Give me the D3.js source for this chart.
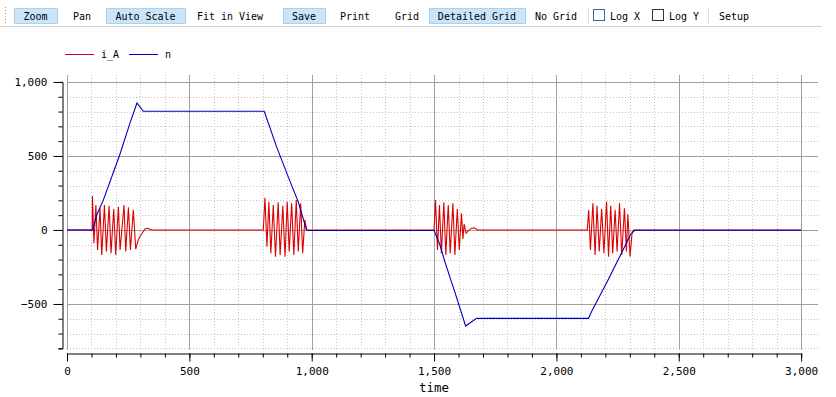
<!DOCTYPE html>
<meta charset="utf-8">
<script src="https://d3js.org/d3.v7.min.js"></script>
<style>
  body { margin: 0; background: #fff; }
  text { font-family: "DejaVu Sans Mono", "Liberation Mono", monospace; }
</style>
<div id="chart"></div>
<script>

// toolbar buttons: label, x start, width, highlighted
var toolLabels = ["Zoom", "Pan", "Auto Scale", "Fit in View", "Save", "Print", "Grid", "Detailed Grid", "No Grid"];
var toolX      = [14, 66, 106, 192, 283, 334, 388, 429, 531];
var toolW      = [43, 32, 79, 76, 42, 42, 38, 96, 50];
var toolOn     = [true, false, true, false, true, false, false, true, false];

// series n (speed)
var nTime  = [0, 106, 121, 148, 216, 257, 286, 312, 806, 857, 911, 945, 979, 990, 1500, 1524, 1544, 1585, 1629, 1674, 2131, 2147, 2211, 2259, 2304, 2320, 3000];
var nValue = [0, 0, 100, 200, 510, 720, 858, 802, 802, 560, 330, 190, 0, -4, -4, -100, -214, -420, -649, -597, -597, -540, -338, -180, -27, -2, -2];

// series i_A (current)
var iTime  = [0, 103, 104, 110, 118, 125, 135, 142, 153, 161, 172, 180, 191, 199, 210, 217, 233, 240, 251, 259, 271, 281, 291, 302, 319, 330, 346,
              802, 809, 817, 825, 833, 843, 852, 863, 871, 882, 891, 900, 908, 918, 927, 937, 945, 955, 963, 972, 979,
              1500, 1506, 1514, 1522, 1530, 1540, 1548, 1558, 1566, 1577, 1585, 1595, 1603, 1612, 1618, 1623, 1631, 1641, 1653, 1664, 1678,
              2126, 2132, 2139, 2149, 2158, 2166, 2175, 2185, 2194, 2205, 2213, 2222, 2230, 2240, 2248, 2258, 2267, 2278, 2286, 2292, 2301, 2309, 2316, 3000];
var iValue = [0, 0, 230, -90, 169, -135, 146, -169, 169, -146, 164, -157, 142, -169, 157, -135, 169, -146, 153, -135, 135, -130, -68, -34, 7, 11, 0,
              0, 218, -113, 191, -158, 169, -180, 187, -169, 164, -180, 191, -146, 180, -169, 203, -146, 180, -157, 68, 0,
              0, 203, -135, 169, -158, 187, -169, 169, -158, 180, -169, 142, -135, 112, -60, 40, -22, -5, 12, 14, 0,
              0, 135, -135, 180, -169, 164, -146, 142, -157, 191, -180, 164, -157, 135, -146, 180, -169, 146, -146, 106, -180, -22, 0, 0];

var xMajor = [0, 500, 1000, 1500, 2000, 2500, 3000];
var yMajor = [-500, 0, 500, 1000];

var W = 836, H = 397;
var svg = d3.select("#chart").append("svg")
    .attr("width", W)
    .attr("height", H);

// ---- toolbar ----
var tb = svg.append("g");
tb.append("line")
  .attr("x1", 0).attr("x2", 822).attr("y1", 26.5).attr("y2", 26.5)
  .attr("stroke", "#d4d4d4");
tb.append("line")
  .attr("x1", 5.5).attr("x2", 5.5).attr("y1", 7).attr("y2", 25)
  .attr("stroke", "#9a9a9a").attr("stroke-dasharray", "1,2");

toolLabels.forEach(function(lbl, i) {
  if (toolOn[i]) {
    tb.append("rect")
      .attr("x", toolX[i] + 0.5).attr("y", 8.5)
      .attr("width", toolW[i]).attr("height", 15)
      .attr("fill", "#cce4f7").attr("stroke", "#a8d2f2");
  }
  tb.append("text")
    .attr("x", toolX[i] + toolW[i] / 2).attr("y", 20)
    .attr("text-anchor", "middle")
    .attr("font-size", "10px")
    .attr("fill", "#000")
    .text(lbl);
});
// separators
[588, 708].forEach(function(sx) {
  tb.append("line").attr("x1", sx + 0.5).attr("x2", sx + 0.5).attr("y1", 8).attr("y2", 24)
    .attr("stroke", "#dcdcdc");
});
// checkboxes
tb.append("rect").attr("x", 593.5).attr("y", 9.5).attr("width", 11).attr("height", 11)
  .attr("fill", "#fff").attr("stroke", "#2d6fa8");
tb.append("text").attr("x", 610).attr("y", 20).attr("font-size", "10px").text("Log X");
tb.append("rect").attr("x", 652.5).attr("y", 9.5).attr("width", 11).attr("height", 11)
  .attr("fill", "#fff").attr("stroke", "#333");
tb.append("text").attr("x", 669).attr("y", 20).attr("font-size", "10px").text("Log Y");
tb.append("text").attr("x", 719).attr("y", 20).attr("font-size", "10px").text("Setup");

// ---- legend ----
var leg = svg.append("g");
leg.append("line").attr("x1", 65).attr("x2", 94).attr("y1", 54.5).attr("y2", 54.5)
  .attr("stroke", "#d0001c").attr("stroke-width", 1);
leg.append("text").attr("x", 101).attr("y", 58).attr("font-size", "10px").text("i_A");
leg.append("line").attr("x1", 129).attr("x2", 158).attr("y1", 54.5).attr("y2", 54.5)
  .attr("stroke", "#0000b4").attr("stroke-width", 1);
leg.append("text").attr("x", 165).attr("y", 58).attr("font-size", "10px").text("n");

// ---- scales ----
var x = d3.scaleLinear().domain([0, 3069]).range([67, 818]);
var y = d3.scaleLinear().domain([-811, 1047]).range([350, 75]);

// grid
var grid = svg.append("g");
grid.selectAll(".vmin").data(d3.range(0, 3100, 100).filter(function(d) { return d % 500; }))
  .enter().append("line")
    .attr("x1", function(d) { return Math.round(x(d)) + 0.5; })
    .attr("x2", function(d) { return Math.round(x(d)) + 0.5; })
    .attr("y1", 75).attr("y2", 350)
    .attr("stroke", "#c4c4c4").attr("stroke-dasharray", "1,2");
grid.selectAll(".hmin").data(d3.range(-800, 1100, 100).filter(function(d) { return d % 500; }))
  .enter().append("line")
    .attr("x1", 67).attr("x2", 818)
    .attr("y1", function(d) { return Math.round(y(d)) + 0.5; })
    .attr("y2", function(d) { return Math.round(y(d)) + 0.5; })
    .attr("stroke", "#c4c4c4").attr("stroke-dasharray", "1,2");
grid.selectAll(".vmaj").data(xMajor)
  .enter().append("line")
    .attr("x1", function(d) { return Math.round(x(d)) + 0.5; })
    .attr("x2", function(d) { return Math.round(x(d)) + 0.5; })
    .attr("y1", 75).attr("y2", 350)
    .attr("stroke", "#a0a0a0");
grid.selectAll(".hmaj").data(yMajor)
  .enter().append("line")
    .attr("x1", 67).attr("x2", 818)
    .attr("y1", function(d) { return Math.round(y(d)) + 0.5; })
    .attr("y2", function(d) { return Math.round(y(d)) + 0.5; })
    .attr("stroke", "#a0a0a0");

// ---- axes ----
var fmt = d3.format(",");
var yAx = y.copy().domain([-800, 1000]).range([y(-800), y(1000)]);
var xAx = x.copy().domain([0, 3000]).range([x(0), x(3000)]);

svg.append("g").attr("transform", "translate(62.5,0)")
  .call(d3.axisLeft(yAx).tickValues(d3.range(-800, 1100, 100)).tickSizeOuter(0)
        .tickSize(4).tickFormat(""));
svg.append("g").attr("transform", "translate(62.5,0)")
  .call(d3.axisLeft(yAx).tickValues(yMajor).tickSizeOuter(0).tickSize(9).tickPadding(6)
        .tickFormat(fmt))
  .call(function(g) { g.select(".domain").remove(); });

svg.append("g").attr("transform", "translate(0,353.5)")
  .call(d3.axisBottom(xAx).tickValues(d3.range(0, 3100, 100)).tickSizeOuter(0)
        .tickSize(4).tickFormat(""));
svg.append("g").attr("transform", "translate(0,353.5)")
  .call(d3.axisBottom(xAx).tickValues(xMajor).tickSizeOuter(0).tickSize(8).tickPadding(6)
        .tickFormat(fmt))
  .call(function(g) { g.select(".domain").remove(); });

svg.selectAll(".tick text")
  .attr("font-family", "'DejaVu Sans Mono', monospace")
  .attr("font-size", "11px")
  .attr("fill", "#000");

svg.append("text")
  .attr("x", 434).attr("y", 392)
  .attr("text-anchor", "middle")
  .attr("font-size", "12.5px")
  .text("time");

// ---- lines ----
svg.append("clipPath").attr("id", "clip")
  .append("rect").attr("x", 67).attr("y", 75).attr("width", 751).attr("height", 275);

var iData = iTime.map(function(t, k) { return [t, iValue[k]]; });
var nData = nTime.map(function(t, k) { return [t, nValue[k]]; });
var line = d3.line()
  .x(function(d) { return x(d[0]); })
  .y(function(d) { return y(d[1]); });

var plot = svg.append("g").attr("clip-path", "url(#clip)");
plot.append("path").datum(iData)
  .attr("d", line).attr("fill", "none")
  .attr("stroke", "#dc0000").attr("stroke-width", 1.1);
plot.append("path").datum(nData)
  .attr("d", line).attr("fill", "none")
  .attr("stroke", "#0000c0").attr("stroke-width", 1.1);

</script>
